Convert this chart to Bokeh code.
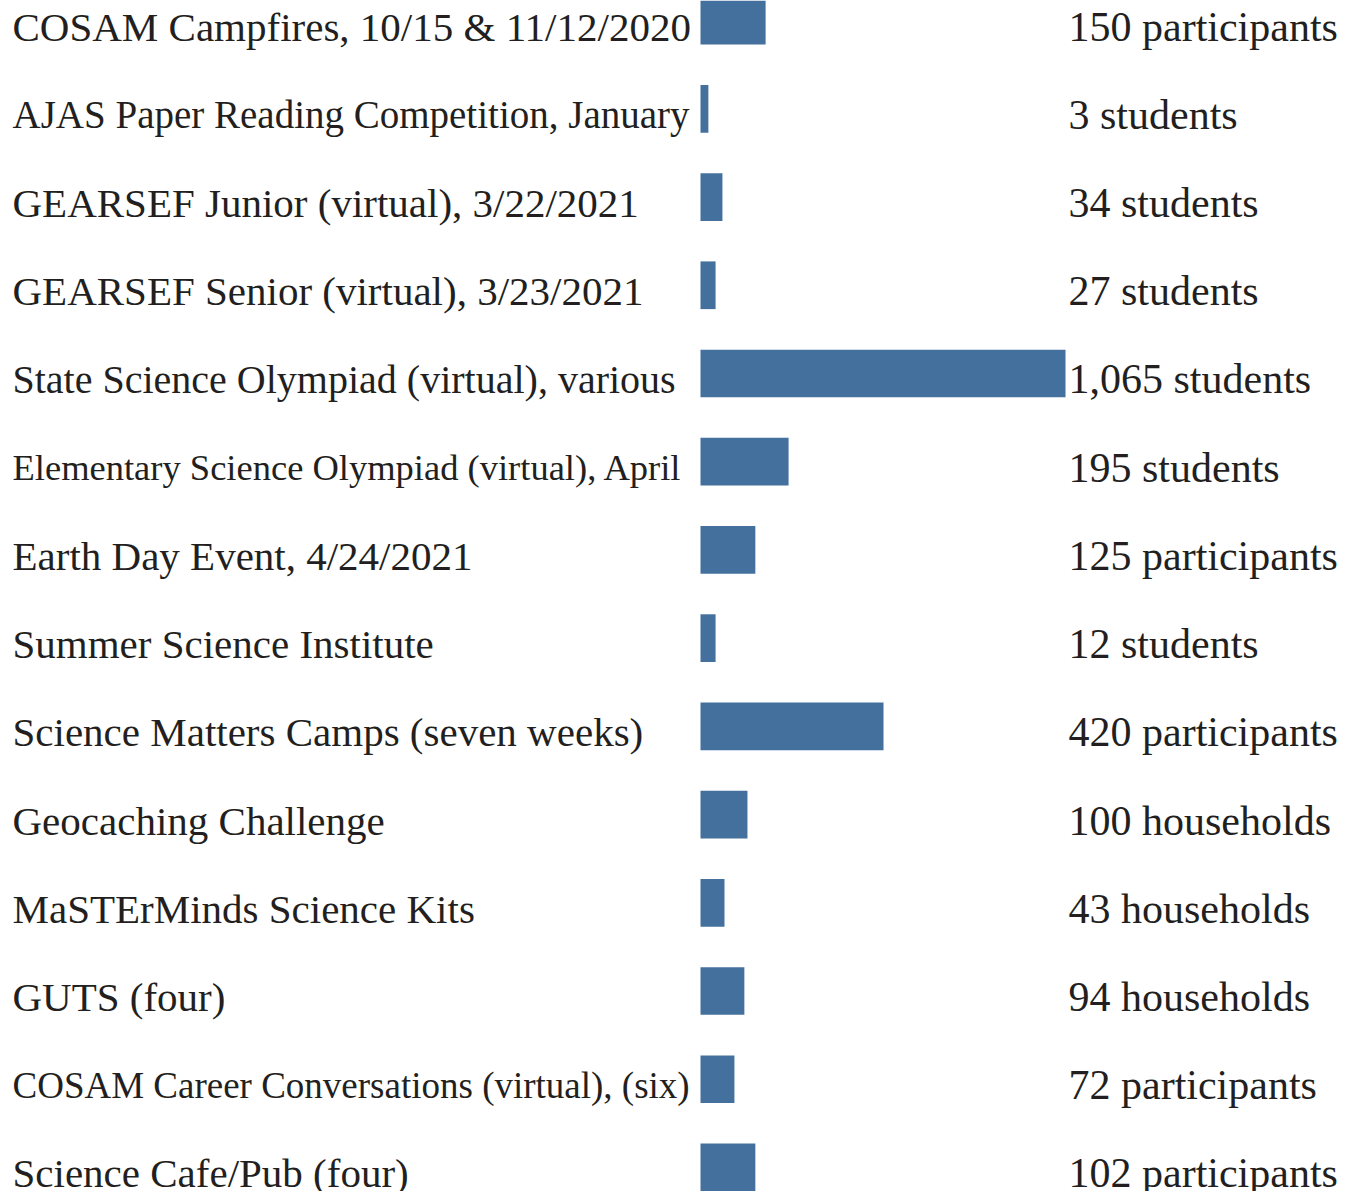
from bokeh.plotting import figure
from bokeh.models import ColumnDataSource, Range1d
from bokeh.embed import file_html
from bokeh.resources import INLINE
from bokeh.core.properties import value

# ---- data ----
events = [
    "COSAM Campfires, 10/15 & 11/12/2020",
    "AJAS Paper Reading Competition, January",
    "GEARSEF Junior (virtual), 3/22/2021",
    "GEARSEF Senior (virtual), 3/23/2021",
    "State Science Olympiad (virtual), various",
    "Elementary Science Olympiad (virtual), April",
    "Earth Day Event, 4/24/2021",
    "Summer Science Institute",
    "Science Matters Camps (seven weeks)",
    "Geocaching Challenge",
    "MaSTErMinds Science Kits",
    "GUTS (four)",
    "COSAM Career Conversations (virtual), (six)",
    "Science Cafe/Pub (four)",
]
# bar lengths as drawn (scale: longest bar = 1,065)
bar_lengths = [190, 23, 64, 44, 1065, 257, 160, 44, 534, 137, 70, 128, 99, 160]
count_labels = [
    "150 participants", "3 students", "34 students", "27 students",
    "1,065 students", "195 students", "125 participants", "12 students",
    "420 participants", "100 households", "43 households", "94 households",
    "72 participants", "102 participants",
]

# ---- layout / style ----
W, H = 1363, 1191
BAR_COLOR = "#44709e"
TEXT_COLOR = "#231f20"
FONT = "Liberation Serif"
BASE_SIZE = 41
RIGHT_SIZE = 42
tight_sizes = {  # labels that are set narrower in the original
    "AJAS Paper Reading Competition, January": 39,
    "State Science Olympiad (virtual), various": 40,
    "Elementary Science Olympiad (virtual), April": 36.5,
    "COSAM Career Conversations (virtual), (six)": 37,
}
zero_px = 700          # screen x of the bar baseline
max_px = 365           # screen length of the longest bar
left_text_px = 12
right_text_px = 1068
k = max_px / max(bar_lengths)   # px per unit
row_pitch = 88.22
first_center = 20.1
bar_h_px = 47.7
text_dy = 6

n = len(events)
rows = list(range(n))
top = -first_center / row_pitch
bottom = top + H / row_pitch

src = ColumnDataSource(dict(
    y=rows,
    event=events,
    length=bar_lengths,
    count=count_labels,
    size=[f"{tight_sizes.get(e, BASE_SIZE)}px" for e in events],
))

p = figure(width=W, height=H, output_backend="svg", toolbar_location=None,
           x_range=Range1d(-zero_px / k, (W - zero_px) / k),
           y_range=Range1d(bottom, top),
           x_axis_location=None, y_axis_location=None,
           min_border=0, outline_line_color=None,
           background_fill_color="white", border_fill_color="white")
p.grid.visible = False

p.hbar(y="y", left=0, right="length", height=bar_h_px / row_pitch,
       color=BAR_COLOR, line_color=None, source=src)

p.text(x=(left_text_px - zero_px) / k, y="y", text="event", source=src,
       text_font=value(FONT), text_font_size="size", text_color=TEXT_COLOR,
       text_baseline="middle", text_align="left", y_offset=text_dy)

p.text(x=(right_text_px - zero_px) / k, y="y", text="count", source=src,
       text_font=value(FONT), text_font_size=f"{RIGHT_SIZE}px", text_color=TEXT_COLOR,
       text_baseline="middle", text_align="left", y_offset=text_dy)

open("out.html", "w").write(file_html(p, INLINE))
